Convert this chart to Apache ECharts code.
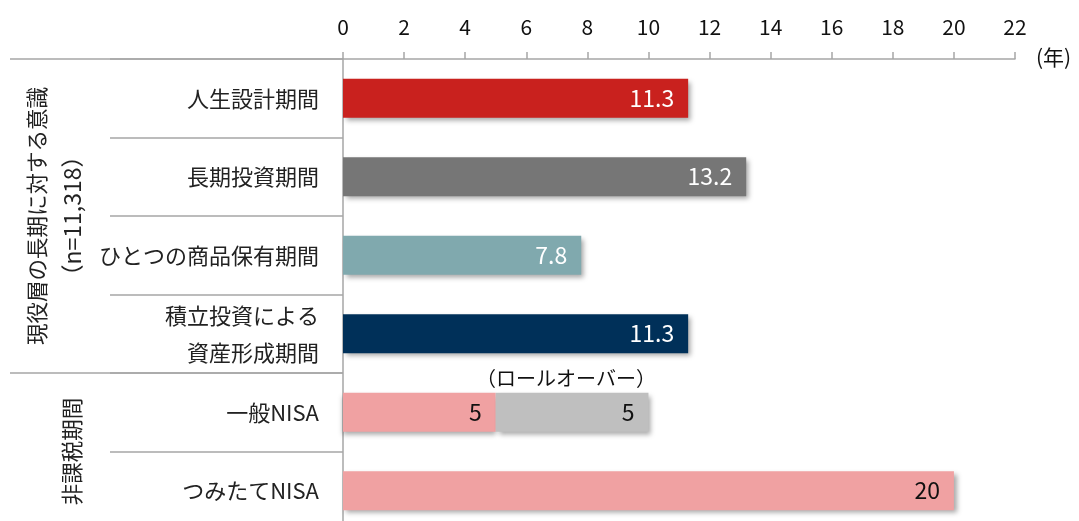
<!DOCTYPE html>
<html>
<head>
<meta charset="utf-8">
<script src="https://cdn.jsdelivr.net/npm/echarts@6/dist/echarts.min.js"></script>
<style>
html,body{margin:0;padding:0;background:#fff;overflow:hidden;}
#c{width:1079px;height:530px;}
</style>
</head>
<body>
<div id="c"></div>
<script>
const categories = ['人生設計期間', '長期投資期間', 'ひとつの商品保有期間', '積立投資による\n資産形成期間', '一般NISA', 'つみたてNISA'];
const mainValues = [11.3, 13.2, 7.8, 11.3, 5, 20];
const rolloverValues = [null, null, null, null, 5, null];
const barColors = ['#C9211E', '#767676', '#80A9AE', '#003059', '#F0A1A2', '#F0A1A2'];
const labelColors = ['#ffffff', '#ffffff', '#ffffff', '#ffffff', '#111111', '#111111'];
const rolloverColor = '#BFBFBF';
const xTicks = { min: 0, max: 22, interval: 2 };
const groups = [
  { lines: ['現役層の長期に対する意識', '（n=11,318）'], from: 0, to: 3 },
  { lines: ['非課税期間'], from: 4, to: 5 }
];
const unitLabel = '(年)';
const rolloverLabel = '（ロールオーバー）';

const FONT = '"Noto Sans CJK JP", "Noto Sans", sans-serif';
const LINE = '#A6A6A6';
const shadow = { shadowColor: 'rgba(0,0,0,0.35)', shadowBlur: 5, shadowOffsetX: 3, shadowOffsetY: 3 };

const chart = echarts.init(document.getElementById('c'));
const option = {
  animation: false,
  grid: { left: 343, width: 672, top: 59, height: 471, containLabel: false },
  xAxis: {
    type: 'value', position: 'top', min: xTicks.min, max: xTicks.max, interval: xTicks.interval,
    axisLine: { show: true, lineStyle: { color: LINE, width: 1.5 } },
    axisTick: { show: true, length: 7, lineStyle: { color: LINE, width: 1.5 } },
    splitLine: { show: false },
    axisLabel: { color: '#111', fontSize: 21, fontFamily: FONT, margin: 21 }
  },
  yAxis: {
    type: 'category', inverse: true, data: categories,
    axisLine: { show: true, onZero: false, lineStyle: { color: LINE, width: 1.5 } },
    axisTick: { show: true, length: 233, lineStyle: { color: LINE, width: 1.5 } },
    axisLabel: { color: '#222', fontSize: 22, fontFamily: FONT, margin: 24, lineHeight: 37, align: 'right' }
  },
  series: [
    {
      type: 'bar', stack: 'a', barWidth: 39,
      data: mainValues.map((v, i) => ({
        value: v,
        itemStyle: Object.assign({ color: barColors[i] }, i === 4 ? { shadowColor: 'rgba(0,0,0,0.35)', shadowBlur: 5, shadowOffsetX: 0, shadowOffsetY: 3 } : shadow),
        label: { color: labelColors[i] }
      })),
      label: { show: true, position: 'insideRight', distance: 14, fontSize: 23, fontFamily: FONT }
    },
    {
      type: 'bar', stack: 'a', barWidth: 39,
      data: rolloverValues,
      itemStyle: Object.assign({ color: rolloverColor }, shadow),
      label: { show: true, position: 'insideRight', distance: 14, fontSize: 23, fontFamily: FONT, color: '#111' }
    }
  ]
};
chart.setOption(option);

function px(x, cat) { return chart.convertToPixel({ gridIndex: 0 }, [x, cat]); }
const step = px(0, categories[1])[1] - px(0, categories[0])[1];
const top0 = px(0, categories[0])[1] - step / 2;
const elements = [];
elements.push({ type: 'line', shape: { x1: 10, y1: top0, x2: 343, y2: top0 }, style: { stroke: LINE, lineWidth: 1.5 } });
const sepY = px(0, categories[groups[1].from])[1] - step / 2;
elements.push({ type: 'line', shape: { x1: 10, y1: sepY, x2: 343, y2: sepY }, style: { stroke: LINE, lineWidth: 1.5 } });
groups.forEach((g) => {
  const yA = px(0, categories[g.from])[1] - step / 2;
  const yB = px(0, categories[g.to])[1] + step / 2;
  const cy = (yA + yB) / 2;
  const xs = g.lines.length === 2 ? [37, 72] : [72];
  g.lines.forEach((t, li) => {
    elements.push({
      type: 'text', x: xs[li], y: cy, rotation: Math.PI / 2,
      style: { text: t, fontSize: (g.lines.length === 2 && li === 1) ? 23 : 21.5, fontFamily: FONT, fill: '#222', align: 'center', verticalAlign: 'middle' }
    });
  });
});
const endPt = px(xTicks.max, categories[0]);
elements.push({ type: 'text', x: endPt[0] + 21, y: top0 - 2, style: { text: unitLabel, fontSize: 21, fontFamily: FONT, fill: '#111', align: 'left', verticalAlign: 'middle' } });
const rIdx = rolloverValues.findIndex(v => v != null);
const rc = px(mainValues[rIdx] + rolloverValues[rIdx] / 2, categories[rIdx]);
elements.push({ type: 'text', x: rc[0] - 6, y: rc[1] - 34, style: { text: rolloverLabel, fontSize: 20, fontFamily: FONT, fill: '#111', align: 'center', verticalAlign: 'middle' } });
chart.setOption({ graphic: { elements: elements } });
</script>
</body>
</html>
